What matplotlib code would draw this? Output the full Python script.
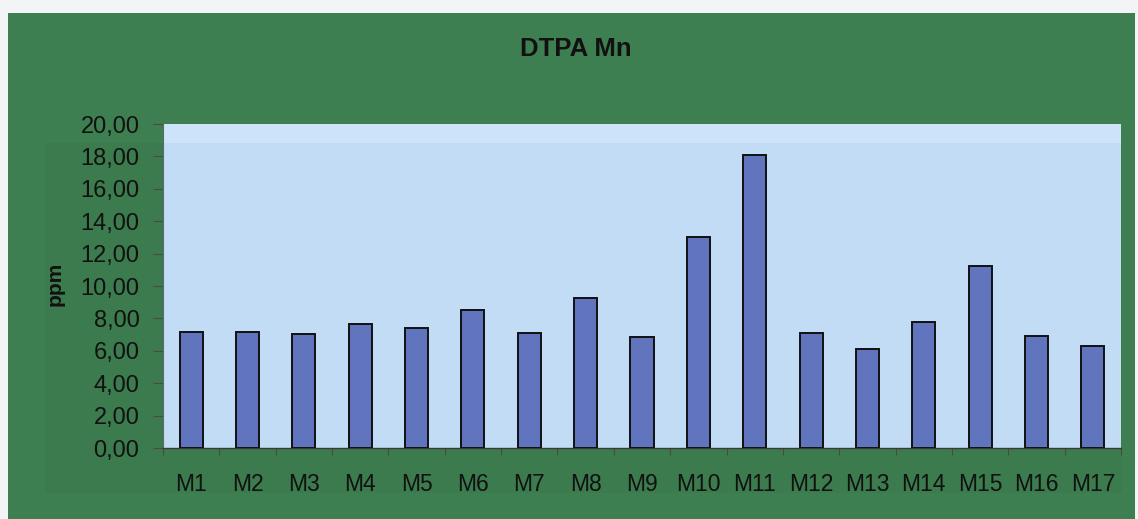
import numpy as np
import matplotlib
matplotlib.use("Agg")
import matplotlib.pyplot as plt
from matplotlib.patches import Rectangle
from matplotlib.ticker import FixedLocator

categories = ['M1', 'M2', 'M3', 'M4', 'M5', 'M6', 'M7', 'M8', 'M9',
              'M10', 'M11', 'M12', 'M13', 'M14', 'M15', 'M16', 'M17']
values = [7.19, 7.19, 7.06, 7.66, 7.42, 8.53, 7.08, 9.26, 6.83,
          13.02, 18.08, 7.08, 6.10, 7.80, 11.22, 6.94, 6.31]
y_ticks = [0, 2, 4, 6, 8, 10, 12, 14, 16, 18, 20]
y_tick_labels = [f'{v:.2f}'.replace('.', ',') for v in y_ticks]
title = 'DTPA Mn'
ylabel = 'ppm'

plt.rcParams['font.family'] = ['Liberation Sans', 'DejaVu Sans']

W, H = 1138, 519
fig = plt.figure(figsize=(W / 100, H / 100), dpi=100, facecolor='#F2F4F6')

def px_rect(x0, y0, x1, y1, color, z):
    fig.patches.append(Rectangle((x0 / W, 1 - y1 / H), (x1 - x0) / W, (y1 - y0) / H,
                                 transform=fig.transFigure, facecolor=color,
                                 edgecolor='none', zorder=z))

# outer green frame and slightly different inner panel
px_rect(8, 13, 1135, 519, '#3E7F51', -2)
px_rect(45, 143, 1122, 493, '#3B7B4E', -1)

ax = fig.add_axes([163 / W, 1 - 448 / H, (1121 - 163) / W, (448 - 124) / H])
ax.set_zorder(5)
ax.set_facecolor('#C2DCF6')

x = np.arange(len(categories))
ax.bar(x, values, width=0.41, color='#6175BF', edgecolor='#111111',
       linewidth=1.4, zorder=3)

ax.set_xlim(-0.5, len(categories) - 0.5)
ax.set_ylim(0, 20)
ax.axhspan(18.8, 20, color='#CDE3F9', zorder=0.5, lw=0)

ax.set_yticks(y_ticks)
ax.set_yticklabels(y_tick_labels)
ax.set_xticks(x)
ax.set_xticklabels(categories)
ax.xaxis.set_minor_locator(FixedLocator(np.arange(len(categories) + 1) - 0.5))

ax.tick_params(axis='x', which='major', length=0, pad=18, labelsize=16.5,
               labelcolor='#111111')
ax.tick_params(axis='x', which='minor', length=5, width=0.8, direction='out',
               color='#4a4a4a')
ax.tick_params(axis='y', length=7, width=0.8, pad=10, labelsize=17,
               color='#4a4a4a', labelcolor='#111111')

for s in ['top', 'right']:
    ax.spines[s].set_visible(False)
ax.spines['left'].set_color('#5a6a6a')
ax.spines['left'].set_linewidth(0.8)
ax.spines['bottom'].set_color('#3a3a3a')
ax.spines['bottom'].set_linewidth(1.0)

fig.text(576 / W, 1 - 49 / H, title, ha='center', va='center',
         fontsize=18.5, fontweight='bold', color='#111111', zorder=10)
fig.text(55 / W, 1 - 284 / H, ylabel, ha='center', va='center', rotation=90,
         fontsize=15, fontweight='bold', color='#111111', zorder=10)

fig.savefig('out.png', dpi=100, facecolor=fig.get_facecolor())
